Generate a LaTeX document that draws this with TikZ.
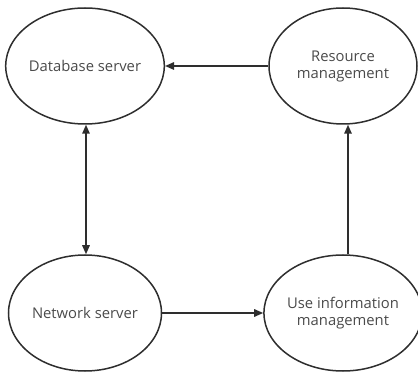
\documentclass[tikz,border=0pt]{standalone}
\usepackage{fontspec}
\setmainfont{Open Sans}
\usetikzlibrary{shapes.geometric,arrows.meta,calc}
\definecolor{txt}{HTML}{4A4A4A}
\definecolor{ln}{HTML}{2E2E2E}
\begin{document}
\begin{tikzpicture}[x=1pt,y=-1pt,
  oval/.style={draw=ln,line width=1.5pt,ellipse,minimum width=153pt,minimum height=116pt,inner sep=0pt,
    align=center,font=\fontsize{14.8}{17}\selectfont,text=txt},
  conn/.style={draw=ln,line width=1.5pt,-{Triangle[length=9pt,width=7.5pt]}},
  conn2/.style={draw=ln,line width=1.5pt,{Triangle[length=9pt,width=7.5pt]}-{Triangle[length=9pt,width=7.5pt]}}]
\useasboundingbox (0,0) rectangle (418,374);
\node[oval] (db) at (85,66) {Database server};
\node[oval,minimum width=148pt] (rm) at (343,66) {Resource\\management};
\node[oval] (ns) at (85,313) {Network server};
\node[oval,minimum width=148pt] (ui) at (343,313) {Use information\\management};
\draw[conn] (rm.west) -- (db.east);
\draw[conn2] ($(db.south)+(1,0)$) -- ($(ns.north)+(1,0)$);
\draw[conn] (ns.east) -- (ui.west);
\draw[conn] ($(ui.north)+(5,0)$) -- ($(rm.south)+(5,0)$);
\end{tikzpicture}
\end{document}
